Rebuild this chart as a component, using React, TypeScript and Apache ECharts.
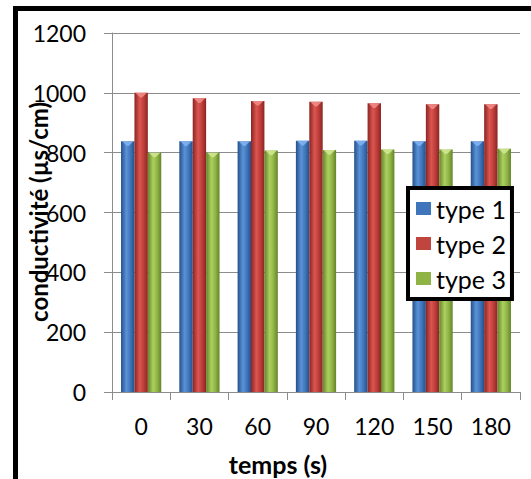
import React, { useEffect, useRef } from "react";
import * as echarts from "echarts";

const categories = ["0", "30", "60", "90", "120", "150", "180"];
const type1 = [838, 838, 838, 840, 840, 838, 838];
const type2 = [1000, 982, 973, 970, 965, 962, 962];
const type3 = [800, 800, 807, 809, 811, 811, 813];
const seriesNames = ["type 1", "type 2", "type 3"];
const yTicks = { min: 0, max: 1200, interval: 200 };

const FONT = "Lato, 'Open Sans', sans-serif";
const CATEGORY_GAP = 0.31;

function grad(dark: string, light: string, mid: string) {
  return new echarts.graphic.LinearGradient(0, 0, 1, 0, [
    { offset: 0, color: dark },
    { offset: 0.4, color: light },
    { offset: 0.7, color: mid },
    { offset: 1, color: dark },
  ]);
}

export default function App() {
  const ref = useRef<HTMLDivElement>(null);
  useEffect(() => {
    document.body.style.margin = "0";
    const chart = echarts.init(ref.current!, null, { renderer: "svg" });
    const colors = [
      grad("#24508a", "#5b93d8", "#3f75ba"),
      grad("#8a2522", "#dc5551", "#bd3d39"),
      grad("#64842a", "#acd060", "#8fb345"),
    ];
    const capColors = ["#7fb0ee", "#ee8a86", "#cfe690"];
    const legendColors = ["#3f75ba", "#c0453f", "#8fb345"];
    const data = [type1, type2, type3];
    const barSeries = data.map((d, i) => ({
      name: seriesNames[i],
      type: "bar",
      data: d,
      barGap: "0%",
      barCategoryGap: CATEGORY_GAP * 100 + "%",
      itemStyle: { color: colors[i] },
      z: 2,
    }));
    const capSeries = data.map((d, i) => ({
      name: seriesNames[i],
      type: "custom",
      silent: true,
      z: 3,
      data: d.map((v, j) => [j, v]),
      renderItem: (params: any, api: any) => {
        const pt = api.coord([api.value(0), api.value(1)]);
        const band = api.size([1, 0])[0];
        const w = (band * (1 - CATEGORY_GAP)) / 3;
        const cx = pt[0] + (i - 1) * w;
        const y = pt[1];
        const h = Math.max(3, w * 0.35);
        return {
          type: "polygon",
          shape: {
            points: [
              [cx - w / 2 + 1, y],
              [cx + w / 2 - 1, y],
              [cx + 1, y + h],
              [cx - 1, y + h],
            ],
          },
          style: { fill: capColors[i], opacity: 0.9 },
        };
      },
    }));
    chart.setOption({
      animation: false,
      backgroundColor: "#ffffff",
      grid: { left: 112, top: 33, right: 11, bottom: 87, containLabel: false },
      xAxis: {
        type: "category",
        data: categories,
        axisLine: { show: true, lineStyle: { color: "#8c8c8c", width: 1 } },
        axisTick: { show: true, length: 8, lineStyle: { color: "#8c8c8c" } },
        splitLine: { show: false },
        axisLabel: { fontFamily: FONT, fontSize: 23, color: "#000", margin: 22 },
      },
      yAxis: {
        type: "value",
        min: yTicks.min,
        max: yTicks.max,
        interval: yTicks.interval,
        axisLine: { show: true, lineStyle: { color: "#8c8c8c", width: 1 } },
        axisTick: { show: true, length: 8, lineStyle: { color: "#8c8c8c" } },
        splitLine: { show: true, lineStyle: { color: "#8c8c8c", width: 1 } },
        axisLabel: {
          fontFamily: FONT,
          fontSize: 23,
          color: "#000",
          margin: 26,
          formatter: (v: number) => String(v),
        },
      },
      legend: {
        orient: "vertical",
        left: 408,
        top: 188,
        width: 109,
        padding: [8, 6, 8, 8],
        itemGap: 10,
        itemWidth: 15,
        itemHeight: 13,
        icon: "rect",
        borderColor: "#000",
        borderWidth: 4,
        backgroundColor: "#fff",
        textStyle: { fontFamily: FONT, fontSize: 25, color: "#000", padding: [0, 0, 0, 0] },
        data: seriesNames.map((n, i) => ({ name: n, itemStyle: { color: legendColors[i] } })),
      },
      series: [...barSeries, ...capSeries],
      graphic: [
        {
          type: "rect",
          shape: { x: 15.5, y: 8.5, width: 600, height: 600 },
          style: { fill: "none", stroke: "#000", lineWidth: 5 },
          z: 100,
        },
        {
          type: "text",
          x: 38,
          y: 212,
          rotation: Math.PI / 2,
          style: {
            text: "conductivité (µs/cm)",
            fontFamily: FONT,
            fontSize: 24,
            fontWeight: "bold",
            fill: "#000",
            align: "center",
            verticalAlign: "middle",
          },
          z: 50,
        },
        {
          type: "text",
          x: 278,
          y: 464,
          style: {
            text: "temps (s)",
            fontFamily: FONT,
            fontSize: 25,
            fontWeight: "bold",
            fill: "#000",
            align: "center",
            verticalAlign: "middle",
          },
          z: 50,
        },
      ],
    });
    return () => chart.dispose();
  }, []);
  return <div ref={ref} style={{ width: 531, height: 479 }} />;
}
